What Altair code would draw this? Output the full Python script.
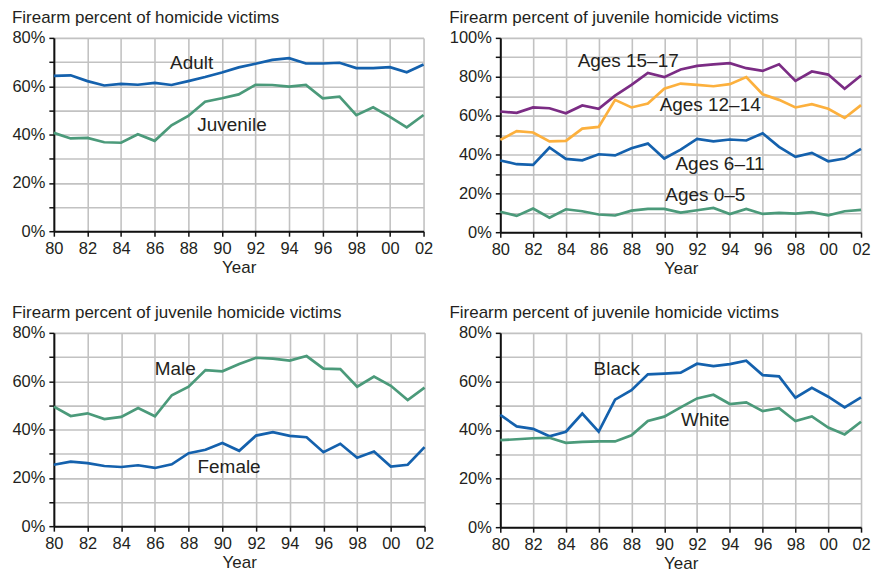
import altair as alt
import pandas as pd

years = list(range(1980, 2003))

# Panel 1: firearm percent of homicide victims
adult = [64.3, 64.5, 62.1, 60.3, 61.0, 60.6, 61.4, 60.5, 62.1, 63.8, 65.7, 67.8,
         69.3, 70.9, 71.6, 69.4, 69.4, 69.7, 67.5, 67.5, 67.9, 65.8, 69.0]
juvenile = [40.7, 38.4, 38.6, 36.8, 36.6, 40.1, 37.4, 43.8, 47.7, 53.6, 55.0, 56.6,
            60.6, 60.5, 59.8, 60.5, 55.0, 55.7, 48.0, 51.3, 47.3, 43.0, 48.1]

# Panel 2: by age group
ages_15_17 = [62.1, 61.4, 64.2, 63.8, 61.2, 65.2, 63.5, 70.3, 75.8, 82.0, 79.8, 83.7,
              85.6, 86.4, 87.0, 84.4, 83.0, 86.4, 77.9, 82.7, 81.1, 73.8, 80.6]
ages_12_14 = [47.5, 52.0, 51.3, 46.7, 47.0, 53.3, 54.2, 68.1, 64.2, 66.2, 73.8, 76.5,
              75.8, 75.1, 76.2, 79.8, 71.0, 68.1, 64.2, 65.9, 63.5, 58.8, 65.4]
ages_6_11 = [36.9, 35.0, 34.6, 43.6, 37.7, 37.0, 40.1, 39.5, 43.2, 45.6, 37.9, 42.5,
             48.0, 46.7, 47.7, 47.2, 50.9, 43.9, 38.8, 40.8, 36.5, 37.9, 42.9]
ages_0_5 = [10.5, 8.4, 12.2, 7.5, 11.8, 10.8, 9.1, 8.6, 11.1, 12.0, 12.0, 10.1,
            11.3, 12.5, 9.3, 12.0, 9.4, 9.9, 9.6, 10.3, 8.7, 10.8, 11.5]

# Panel 3: by sex
male = [49.5, 45.6, 46.7, 44.3, 45.2, 48.9, 45.5, 54.2, 57.7, 64.6, 64.1, 67.1,
        69.7, 69.3, 68.5, 70.4, 65.2, 65.0, 57.7, 61.9, 58.1, 52.2, 57.3]
female = [25.4, 26.7, 26.1, 24.9, 24.5, 25.2, 24.1, 25.6, 30.2, 31.6, 34.4, 31.2,
          37.5, 38.9, 37.4, 36.8, 30.6, 34.1, 28.3, 30.9, 24.7, 25.4, 32.7]

# Panel 4: by race
black = [46.2, 41.5, 40.5, 37.4, 39.3, 46.8, 39.3, 52.5, 56.4, 62.9, 63.2, 63.6,
         67.3, 66.3, 67.1, 68.5, 62.6, 62.1, 53.3, 57.4, 53.7, 49.3, 53.4]
white = [35.8, 36.2, 36.6, 36.8, 34.7, 35.1, 35.3, 35.3, 37.8, 43.7, 45.5, 49.3,
         53.0, 54.5, 50.7, 51.4, 47.8, 49.0, 43.7, 45.6, 41.0, 38.2, 43.4]

# Series labels (text, year, value)
p1_labels = [("Adult", 1988.2, 69.7), ("Juvenile", 1990.6, 44.1)]
p2_labels = [("Ages 15–17", 1987.8, 88.0), ("Ages 12–14", 1992.8, 65.2),
             ("Ages 6–11", 1993.4, 35.2), ("Ages 0–5", 1992.5, 18.9)]
p3_labels = [("Male", 1987.2, 64.9), ("Female", 1990.4, 24.3)]
p4_labels = [("Black", 1987.1, 65.3), ("White", 1992.5, 44.1)]

BLUE = "#1461ad"
GREEN = "#4b9a7a"
PURPLE = "#7b2c84"
ORANGE = "#fcb03d"
FONT = "Liberation Sans"
TXT = "#231f20"


def panel(names, series, colors, ymax, labels, title, w, h, yext=0):
    rows = []
    for n, c, vals in zip(names, colors, series):
        for yr, v in zip(years, vals):
            rows.append({"year": yr, "value": v, "series": n, "col": c})
    df = pd.DataFrame(rows)
    ldf = pd.DataFrame(labels, columns=["label", "x", "y"])

    xscale = alt.Scale(domain=[1980, 2002], nice=False, zero=False)
    yscale = alt.Scale(domain=[0, ymax], nice=False)

    def xaxis():
        return alt.Axis(values=list(range(1980, 2003, 2)), grid=True,
                        labelExpr="slice(toString(datum.value), 2)",
                        title="Year", labelFlush=False, labelOverlap=False)

    def yaxis():
        return alt.Axis(values=list(range(0, ymax + 1, 10)), grid=True,
                        labelExpr="datum.value % 20 == 0 ? datum.value + '%' : ''",
                        title=None, labelOverlap=False, minExtent=yext)

    lines = alt.Chart(df).mark_line(strokeWidth=2.7).encode(
        x=alt.X("year:Q", scale=xscale, axis=xaxis()),
        y=alt.Y("value:Q", scale=yscale, axis=yaxis()),
        color=alt.Color("col:N", scale=None, legend=None),
        detail="series:N",
    )
    text = alt.Chart(ldf).mark_text(fontSize=19, font=FONT, color=TXT).encode(
        x=alt.X("x:Q", scale=xscale, axis=xaxis()),
        y=alt.Y("y:Q", scale=yscale, axis=yaxis()),
        text="label:N",
    )
    return alt.layer(lines, text).properties(
        width=w, height=h,
        title=alt.TitleParams(title, anchor="start", frame="bounds", fontSize=17,
                              font=FONT, fontWeight="normal", color=TXT, offset=3),
    )


p1 = panel(["Adult", "Juvenile"], [adult, juvenile], [BLUE, GREEN], 80, p1_labels,
           "Firearm percent of homicide victims", 371, 194)
p2 = panel(["15-17", "12-14", "6-11", "0-5"], [ages_15_17, ages_12_14, ages_6_11, ages_0_5],
           [PURPLE, ORANGE, BLUE, GREEN], 100, p2_labels,
           "Firearm percent of juvenile homicide victims", 362, 195)
p3 = panel(["Male", "Female"], [male, female], [GREEN, BLUE], 80, p3_labels,
           "Firearm percent of juvenile homicide victims", 372, 194)
p4 = panel(["Black", "White"], [black, white], [BLUE, GREEN], 80, p4_labels,
           "Firearm percent of juvenile homicide victims", 362, 195, yext=51)

chart = alt.vconcat(
    alt.hconcat(p1, p2, spacing=15),
    alt.hconcat(p3, p4, spacing=15),
    spacing=27,
).properties(
    padding={"left": 3, "top": 0, "right": 0, "bottom": 0}
).configure_view(stroke=None).configure_axis(
    labelFont=FONT, labelFontSize=16.5, labelColor=TXT,
    titleFont=FONT, titleFontSize=17, titleFontWeight="normal", titleColor=TXT,
    gridColor="#c2c2c2", gridWidth=1.6,
    domainColor="#111111", domainWidth=2,
    tickColor="#111111", tickWidth=1.5, tickSize=5,
    labelPadding=4, titlePadding=3,
)

chart.save("out.html", embed_options={"renderer": "svg", "actions": False})
